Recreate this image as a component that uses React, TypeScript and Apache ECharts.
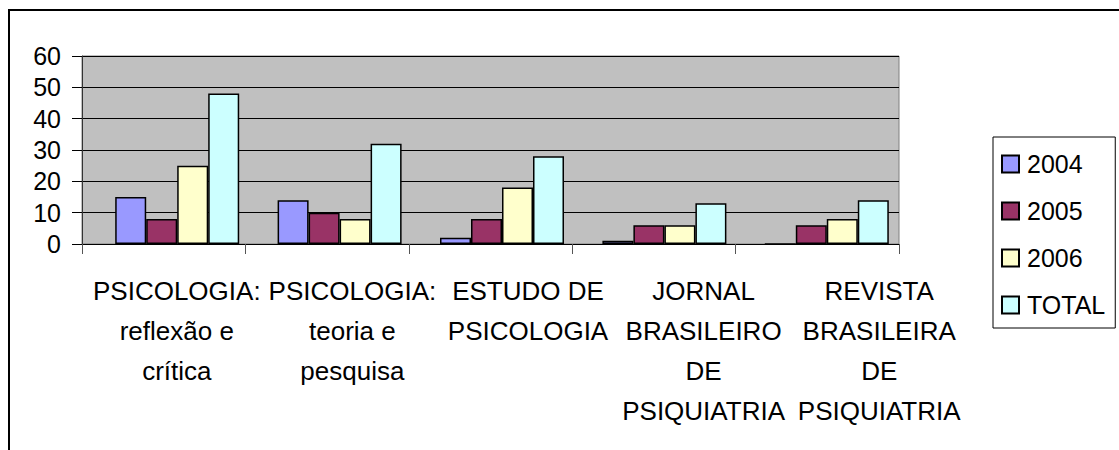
import React, { useEffect, useRef } from "react";
import * as echarts from "echarts";

const categories = [
  "PSICOLOGIA:\nreflexão e\ncrítica",
  "PSICOLOGIA:\nteoria e\npesquisa",
  "ESTUDO DE\nPSICOLOGIA",
  "JORNAL\nBRASILEIRO\nDE\nPSIQUIATRIA",
  "REVISTA\nBRASILEIRA\nDE\nPSIQUIATRIA",
];
const seriesNames = ["2004", "2005", "2006", "TOTAL"];
const values2004 = [15, 14, 2, 1, 0];
const values2005 = [8, 10, 8, 6, 6];
const values2006 = [25, 8, 18, 6, 8];
const valuesTotal = [48, 32, 28, 13, 14];
const seriesColors = ["#9999FF", "#993366", "#FFFFCC", "#CCFFFF"];
const yMin = 0;
const yMax = 60;
const yInterval = 10;

const FONT = "'Liberation Sans', Arial, Helvetica, sans-serif";

export default function App() {
  const ref = useRef<HTMLDivElement>(null);

  useEffect(() => {
    document.body.style.margin = "0";
    if (!ref.current) return;
    const chart = echarts.init(ref.current, null, { renderer: "svg" });
    const allValues = [values2004, values2005, values2006, valuesTotal];

    const plotTop = 56;
    const plotBottom = 450 - 244;

    chart.setOption({
      animation: false,
      backgroundColor: "#ffffff",
      textStyle: { fontFamily: FONT },
      graphic: [
        {
          type: "rect",
          silent: true,
          shape: { x: 9, y: 10, width: 1200, height: 500 },
          style: { fill: "none", stroke: "#000000", lineWidth: 2 },
        },
      ],
      grid: [
        {
          left: 82,
          right: 1119 - 899,
          top: plotTop,
          bottom: plotBottom,
          show: true,
          backgroundColor: "#C0C0C0",
          borderColor: "#808080",
          borderWidth: 1,
        },
        { left: 96, right: 1119 - 908, top: plotTop, bottom: plotBottom },
        { left: 89, right: 152, top: plotTop, bottom: plotBottom },
      ],
      xAxis: [
        {
          type: "category",
          gridIndex: 0,
          data: categories,
          axisLine: { show: true, lineStyle: { color: "#000", width: 1 } },
          axisTick: { show: true, length: 10, lineStyle: { color: "#555" } },
          axisLabel: { show: false },
          splitLine: { show: false },
        },
        {
          type: "category",
          gridIndex: 1,
          data: categories,
          show: false,
        },
        {
          type: "category",
          gridIndex: 2,
          data: categories,
          axisLine: { show: false },
          axisTick: { show: false },
          splitLine: { show: false },
          axisLabel: {
            interval: 0,
            margin: 27,
            fontSize: 26,
            lineHeight: 40,
            color: "#000",
            fontFamily: FONT,
            align: "center",
          },
        },
      ],
      yAxis: [
        {
          type: "value",
          gridIndex: 0,
          min: yMin,
          max: yMax,
          interval: yInterval,
          axisLine: { show: true, lineStyle: { color: "#333", width: 1 } },
          axisTick: { show: true, length: 10, lineStyle: { color: "#000" } },
          axisLabel: {
            margin: 21,
            fontSize: 25,
            color: "#000",
            fontFamily: FONT,
          },
          splitLine: { show: true, lineStyle: { color: "#000", width: 1 } },
        },
        { type: "value", gridIndex: 1, min: yMin, max: yMax, interval: yInterval, show: false },
        { type: "value", gridIndex: 2, min: yMin, max: yMax, interval: yInterval, show: false },
      ],
      legend: {
        orient: "vertical",
        left: 993,
        top: 137,
        data: seriesNames,
        borderColor: "#000",
        borderWidth: 1,
        padding: [12, 10, 8, 8],
        itemWidth: 17,
        itemHeight: 17,
        itemGap: 17,
        icon: "rect",
        textStyle: {
          fontSize: 25,
          lineHeight: 30,
          color: "#000",
          fontFamily: FONT,
          padding: [0, 0, 0, 3],
        },
      },
      series: seriesNames.map((name, i) => ({
        name,
        type: "bar",
        xAxisIndex: 1,
        yAxisIndex: 1,
        data: allValues[i],
        barWidth: 31,
        barGap: "0%",
        itemStyle: {
          color: seriesColors[i],
          borderColor: "#000",
          borderWidth: 1.5,
        },
      })),
    });

    return () => chart.dispose();
  }, []);

  return <div ref={ref} style={{ width: 1119, height: 450 }} />;
}
